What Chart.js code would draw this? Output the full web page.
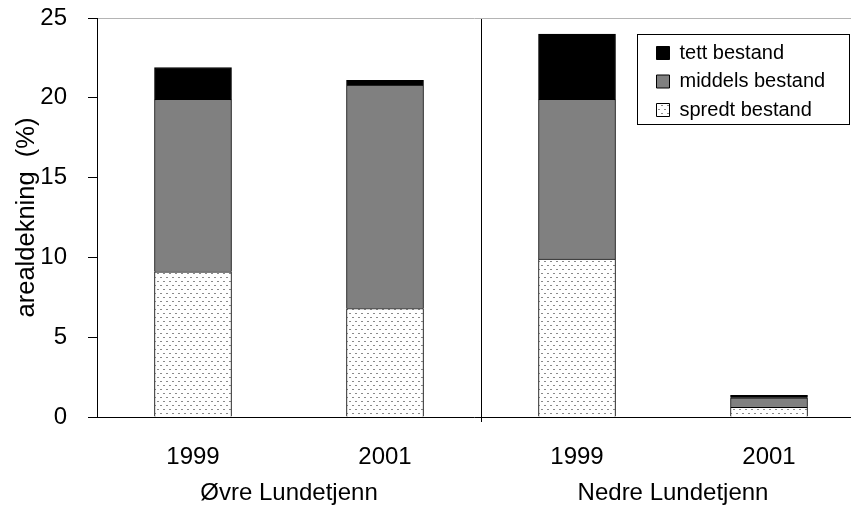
<!DOCTYPE html>
<html>
<head>
<meta charset="utf-8">
<script src="https://cdn.jsdelivr.net/npm/chart.js@4/dist/chart.umd.min.js"></script>
<style>
html,body{margin:0;padding:0;background:#fff;}
#wrap{width:851px;height:506px;position:relative;}
</style>
</head>
<body>
<div id="wrap"><canvas id="c" width="851" height="506"></canvas></div>
<script>
const categories = ['1999', '2001', '1999', '2001'];
const groups = ['Øvre Lundetjenn', 'Nedre Lundetjenn'];
const seriesNames = ['spredt bestand', 'middels bestand', 'tett bestand'];
const spredt = [9.1, 6.8, 9.9, 0.6];
const middels = [10.8, 14.0, 10.0, 0.6];
const tett = [2.0, 0.3, 4.1, 0.15];
const catPositions = [1, 2, 3, 4];
const dividerPositions = [2.5];
const groupPositions = [1.5, 3.5];
const yTitle = 'arealdekning  (%)';

function makeDots() {
  const t = document.createElement('canvas');
  t.width = 6; t.height = 8;
  const g = t.getContext('2d');
  g.fillStyle = '#fff'; g.fillRect(0, 0, 6, 8);
  g.fillStyle = '#8a8a8a';
  g.fillRect(1, 1, 2, 1);
  g.fillRect(4, 5, 2, 1);
  return document.getElementById('c').getContext('2d').createPattern(t, 'repeat');
}
const dots = makeDots();

const toPts = arr => arr.map((v, i) => ({x: catPositions[i], y: v}));
const FONT = {family: 'Liberation Sans, Arial, sans-serif', size: 24};
const TITLE_FONT = {family: 'Liberation Sans, Arial, sans-serif', size: 25.5};
const xMin = 0.5, xMax = 4.427;

const legendPlacer = {
  id: 'legendPlacer',
  afterLayout(chart) {
    const lg = chart.legend;
    const w = lg.width, h = lg.height;
    lg.left = 648; lg.top = 34.5;
    lg.right = lg.left + w; lg.bottom = lg.top + h;
  },
  afterDraw(chart) {
    const ctx = chart.ctx;
    ctx.save();
    ctx.strokeStyle = '#000';
    ctx.lineWidth = 1;
    ctx.strokeRect(637.5, 34.5, 212, 90);
    ctx.restore();
  }
};

new Chart(document.getElementById('c'), {
  type: 'bar',
  data: {
    datasets: [
      {label: seriesNames[0], data: toPts(spredt), backgroundColor: dots, borderColor: '#000', borderWidth: 1},
      {label: seriesNames[1], data: toPts(middels), backgroundColor: '#808080', borderColor: '#000', borderWidth: 1},
      {label: seriesNames[2], data: toPts(tett), backgroundColor: '#000', borderColor: '#000', borderWidth: 1}
    ]
  },
  plugins: [legendPlacer],
  options: {
    responsive: false,
    animation: false,
    devicePixelRatio: 1,
    layout: {padding: {left: 0, right: 0, top: 18, bottom: 0}},
    datasets: {bar: {barThickness: 77}},
    plugins: {
      tooltip: {enabled: false},
      legend: {
        position: 'chartArea',
        align: 'start',
        reverse: true,
        labels: {
          boxWidth: 13, boxHeight: 13, padding: 8.5,
          color: '#000',
          font: {family: 'Liberation Sans, Arial, sans-serif', size: 20}
        }
      }
    },
    scales: {
      x: {
        type: 'linear', stacked: true, min: xMin, max: xMax, offset: false,
        position: 'bottom',
        afterBuildTicks: s => { s.ticks = catPositions.concat(dividerPositions).sort((a, b) => a - b).map(v => ({value: v})); },
        afterFit: s => { s.height = 50; s.paddingLeft = 0; s.paddingRight = 0; },
        ticks: {
          font: FONT, color: '#000', padding: 21, maxRotation: 0, autoSkip: false,
          callback: v => { const i = catPositions.indexOf(v); return i >= 0 ? categories[i] : ''; }
        },
        grid: {
          offset: false, drawOnChartArea: true, tickLength: 5,
          color: c => (c.tick && dividerPositions.includes(c.tick.value)) ? '#000' : 'rgba(0,0,0,0)',
          lineWidth: 1
        },
        border: {display: true, color: '#000', width: 1}
      },
      x2: {
        type: 'linear', min: xMin, max: xMax, position: 'bottom', offset: false,
        afterBuildTicks: s => { s.ticks = groupPositions.map(v => ({value: v})); },
        afterFit: s => { s.height = 39; s.paddingLeft = 0; s.paddingRight = 0; },
        ticks: {
          font: FONT, color: '#000', padding: 12, maxRotation: 0, autoSkip: false,
          callback: v => { const i = groupPositions.indexOf(v); return i >= 0 ? groups[i] : ''; }
        },
        grid: {display: false, drawTicks: false, offset: false},
        border: {display: false}
      },
      y: {
        stacked: true, min: 0, max: 25,
        afterFit: s => { s.width = 97; s.paddingTop = 0; s.paddingBottom = 0; },
        ticks: {stepSize: 5, font: FONT, color: '#000', padding: 21},
        grid: {
          drawOnChartArea: true, tickLength: 9, tickColor: '#000',
          color: c => (c.tick && c.tick.value === 25) ? '#b4b4b4' : 'rgba(0,0,0,0)'
        },
        border: {display: true, color: '#000', width: 1},
        title: {display: true, text: yTitle, font: TITLE_FONT, color: '#000', padding: {top: 12, bottom: 0}}
      }
    }
  }
});
</script>
</body>
</html>
